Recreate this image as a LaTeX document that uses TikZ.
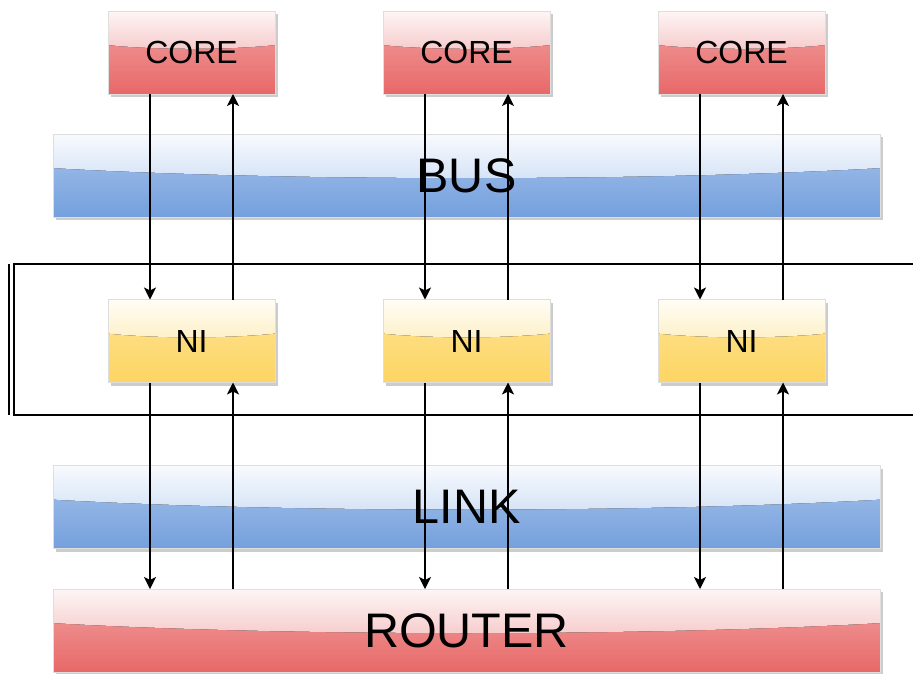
\documentclass[tikz,border=0pt]{standalone}
\usepackage{fontspec}
\setmainfont{Liberation Sans}
\usetikzlibrary{calc,arrows.meta,shadows}

% glossy fills: A = top, B = just above the highlight edge, C = just below it, D = bottom
\definecolor{redA}{HTML}{FEF5F5}
\definecolor{redB}{HTML}{F6CBCB}
\definecolor{redC}{HTML}{F1A3A3}
\definecolor{redD}{HTML}{E86868}
\definecolor{blueA}{HTML}{F8FAFE}
\definecolor{blueB}{HTML}{D4E2F6}
\definecolor{blueC}{HTML}{A9C3EB}
\definecolor{blueD}{HTML}{74A0DD}
\definecolor{yelA}{HTML}{FFFDF5}
\definecolor{yelB}{HTML}{FEF0C8}
\definecolor{yelC}{HTML}{FEE395}
\definecolor{yelD}{HTML}{FDD562}

% depth of the highlight's lower curve, as a fraction of the box height
\def\glossdip{0.57}

\tikzset{
  gloss/.style 2 args={path picture={
    \path (path picture bounding box.north west) coordinate (gl-nw)
          (path picture bounding box.south east) coordinate (gl-se);
    \path ($(gl-nw)!0.41!(gl-se)$) coordinate (gl-a)
          ($(gl-nw)!\glossdip!(gl-se)$) coordinate (gl-b)
          ($(gl-nw)!0.28!(gl-se)$) coordinate (gl-c)
          ($(gl-nw)!0.72!(gl-se)$) coordinate (gl-d);
    \path (gl-a -| gl-se) coordinate (gl-e)
          (gl-a -| gl-nw) coordinate (gl-w)
          (gl-d |- gl-b) coordinate (gl-k2)
          (gl-c |- gl-b) coordinate (gl-k1);
    \fill[top color=#1, bottom color=#2]
      (gl-nw) -| (gl-e) .. controls (gl-k2) and (gl-k1) .. (gl-w) -- cycle;
  }},
  box/.style={rectangle, inner sep=0pt, outer sep=0pt, text=black,
    draw=black!13, line width=0.8pt,
    drop shadow={shadow xshift=3pt, shadow yshift=-3pt, fill=black!20, opacity=1}},
  smallbox/.style={box, minimum width=167pt, minimum height=83pt,
    font=\fontsize{32}{32}\selectfont, /utils/exec=\def\glossdip{0.47}},
  widebox/.style={box, minimum width=827pt, minimum height=83pt,
    font=\fontsize{48.5}{48.5}\selectfont},
  redbox/.style={top color=redC, bottom color=redD, gloss={redA}{redB}},
  bluebox/.style={top color=blueC, bottom color=blueD, gloss={blueA}{blueB}},
  yelbox/.style={top color=yelC, bottom color=yelD, gloss={yelA}{yelB}},
  arr/.style={line width=1.2pt, -{Stealth[length=12pt, width=12pt, inset=3pt]}},
  frameline/.style={line width=1.3pt}
}

\begin{document}
\begin{tikzpicture}[x=1pt, y=1pt]
  \useasboundingbox (0,0) rectangle (913,-673);

  % shared bars
  \node[widebox, bluebox] (bus) at (466.5,-175.5) {BUS};
  \node[widebox, bluebox] (link) at (466.5,-507) {LINK};
  \node[widebox, redbox] (router) at (466.5,-630.5) {ROUTER};

  % network-interface group frame
  \draw[frameline] (913,-264) -- (14,-264) -- (14,-415) -- (913,-415);
  \draw[frameline] (9,-264) -- (9,-415);

  % one core and one network interface per column
  \foreach \i/\x in {1/191.5, 2/466.5, 3/741.5} {
    \node[smallbox, redbox] (core\i) at (\x,-52.5) {CORE};
    \node[smallbox, yelbox] (ni\i) at (\x,-341) {NI};
  }

  % request and response paths
  \foreach \i in {1,2,3} {
    \draw[arr] ([xshift=-41.5pt]core\i.south) -- ([xshift=-41.5pt]ni\i.north);
    \draw[arr] ([xshift=41.5pt]ni\i.north) -- ([xshift=41.5pt]core\i.south);
    \draw[arr] ([xshift=-41.5pt]ni\i.south) -- ([xshift=-41.5pt]ni\i.south |- router.north);
    \draw[arr] ([xshift=41.5pt]ni\i.south |- router.north) -- ([xshift=41.5pt]ni\i.south);
  }
\end{tikzpicture}
\end{document}
